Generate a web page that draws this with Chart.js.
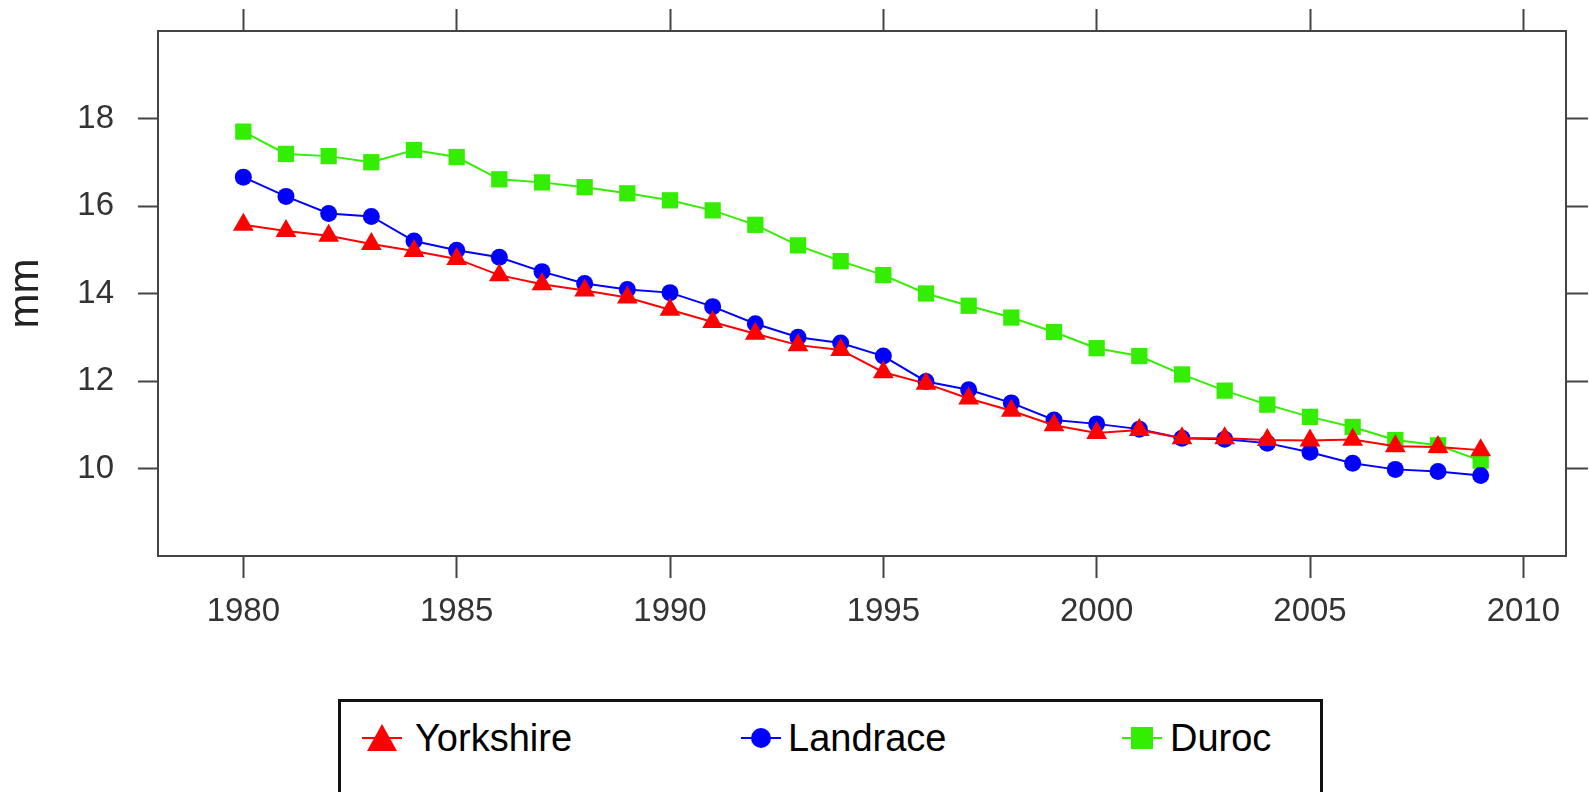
<!DOCTYPE html>
<html lang="en">
<head>
    <meta charset="UTF-8">
    <title>Yorkshire, Landrace, Duroc - mm</title>
    <script src="https://cdn.jsdelivr.net/npm/chart.js"></script>
    <style>
        body { margin: 0; background: #fff; }
        .wrap { position: relative; width: 1589px; height: 792px; overflow: hidden; }
        .legend-box {
            position: absolute; left: 338px; top: 699px; width: 979px; height: 120px;
            border: 3px solid #111; background: #fff;
            font-family: "Liberation Sans", Arial, sans-serif; font-size: 38px; color: #000;
        }
        .item { position: absolute; top: 11px; height: 50px; line-height: 50px; white-space: nowrap; }
        .item svg { position: absolute; top: 0; }
    </style>
</head>
<body>
<div class="wrap">
    <canvas id="chart"></canvas>
    <div class="legend-box" id="legend"></div>
</div>

<script>
    // data
    const years = [1980, 1981, 1982, 1983, 1984, 1985, 1986, 1987, 1988, 1989,
                   1990, 1991, 1992, 1993, 1994, 1995, 1996, 1997, 1998, 1999,
                   2000, 2001, 2002, 2003, 2004, 2005, 2006, 2007, 2008, 2009];
    const yorkshire = [15.57, 15.43, 15.32, 15.13, 14.97, 14.79, 14.42, 14.21, 14.07, 13.91,
                       13.63, 13.35, 13.08, 12.82, 12.71, 12.20, 11.94, 11.60, 11.32, 10.99,
                       10.81, 10.88, 10.69, 10.69, 10.65, 10.64, 10.66, 10.51, 10.49, 10.42];
    const landrace = [16.66, 16.22, 15.83, 15.76, 15.20, 14.99, 14.83, 14.50, 14.23, 14.09,
                      14.02, 13.70, 13.31, 13.00, 12.87, 12.57, 11.99, 11.80, 11.50, 11.11,
                      11.02, 10.90, 10.69, 10.67, 10.58, 10.37, 10.12, 9.98, 9.93, 9.84];
    const duroc = [17.70, 17.19, 17.14, 17.00, 17.28, 17.12, 16.61, 16.54, 16.43, 16.29,
                   16.13, 15.90, 15.57, 15.10, 14.74, 14.42, 14.00, 13.72, 13.45, 13.12,
                   12.75, 12.57, 12.15, 11.78, 11.46, 11.18, 10.95, 10.65, 10.53, 10.18];
    const xTicks = [1980, 1985, 1990, 1995, 2000, 2005, 2010];
    const yTicks = [10, 12, 14, 16, 18];

    const series = [
        { label: 'Yorkshire', data: yorkshire, color: '#ff0000', style: 'triangle', radius: 12 },
        { label: 'Landrace', data: landrace, color: '#0000ff', style: 'circle', radius: 8.5 },
        { label: 'Duroc', data: duroc, color: '#33ee00', style: 'rect', radius: 11.5 }
    ];

    const axisColor = '#444';
    const tickFont = { family: 'Liberation Sans, Arial, sans-serif', size: 33 };

    function setTicks(list) {
        return function (scale) { scale.ticks = list.map(v => ({ value: v })); };
    }

    // fixed box sizes so the plot area sits where the reference has it
    function fixSize(prop, size) {
        return function (s) {
            s[prop] = size;
            s.paddingTop = 0; s.paddingBottom = 0; s.paddingLeft = 0; s.paddingRight = 0;
        };
    }

    function axis(position, list, extra) {
        return Object.assign({
            type: 'linear',
            position: position,
            grid: { drawOnChartArea: false, drawTicks: true, tickLength: 22, tickColor: axisColor, tickWidth: 2 },
            border: { display: true, color: axisColor, width: 2 },
            afterBuildTicks: setTicks(list)
        }, extra);
    }

    new Chart(document.getElementById('chart'), {
        type: 'line',
        data: {
            datasets: series.map(s => ({
                label: s.label,
                data: years.map((y, i) => ({ x: y, y: s.data[i] })),
                borderColor: s.color,
                backgroundColor: s.color,
                borderWidth: 2,
                pointStyle: s.style,
                pointRadius: s.radius,
                pointBorderWidth: 0,
                xAxisID: 'x',
                yAxisID: 'y'
            }))
        },
        options: {
            responsive: true,
            maintainAspectRatio: false,
            animation: false,
            layout: { padding: 0 },
            plugins: { legend: { display: false }, tooltip: { enabled: false } },
            scales: {
                x: axis('bottom', xTicks, {
                    min: 1978, max: 2011,
                    ticks: { color: '#333', font: tickFont, padding: 14, maxRotation: 0, callback: v => String(v) },
                    afterFit: fixSize('height', 236)
                }),
                x2: axis('top', xTicks, {
                    min: 1978, max: 2011,
                    ticks: { display: false },
                    afterFit: fixSize('height', 31)
                }),
                y: axis('left', yTicks, {
                    min: 8, max: 20,
                    ticks: { color: '#333', font: tickFont, padding: 24, callback: v => String(v) },
                    title: {
                        display: true, text: 'mm', color: '#222',
                        font: { family: 'Liberation Sans, Arial, sans-serif', size: 42 },
                        padding: { top: 1, bottom: 0 }
                    },
                    grid: { drawOnChartArea: false, tickLength: 20, tickColor: axisColor, tickWidth: 2 },
                    afterFit: fixSize('width', 158)
                }),
                y2: axis('right', yTicks, {
                    min: 8, max: 20,
                    ticks: { display: false },
                    afterFit: fixSize('width', 23)
                })
            }
        }
    });

    // boxed legend under the plot
    const legendPos = [
        { marker: 382, text: 415 },
        { marker: 761, text: 788 },
        { marker: 1142, text: 1170 }
    ];
    function markerSvg(s) {
        let shape = '';
        if (s.style === 'triangle') shape = '<polygon points="21,11 36,38 6,38" fill="' + s.color + '"/>';
        else if (s.style === 'circle') shape = '<circle cx="21" cy="25" r="10" fill="' + s.color + '"/>';
        else shape = '<rect x="10" y="14" width="22" height="22" fill="' + s.color + '"/>';
        return '<svg width="42" height="50" viewBox="0 0 42 50">' +
            '<line x1="1" y1="25" x2="41" y2="25" stroke="' + s.color + '" stroke-width="2"/>' + shape + '</svg>';
    }
    const legend = document.getElementById('legend');
    series.forEach((s, i) => {
        const m = document.createElement('div');
        m.className = 'item';
        m.style.left = (legendPos[i].marker - 21 - 341) + 'px';
        m.innerHTML = markerSvg(s);
        legend.appendChild(m);
        const t = document.createElement('div');
        t.className = 'item';
        t.style.left = (legendPos[i].text - 341) + 'px';
        t.textContent = s.label;
        legend.appendChild(t);
    });
</script>
</body>
</html>
